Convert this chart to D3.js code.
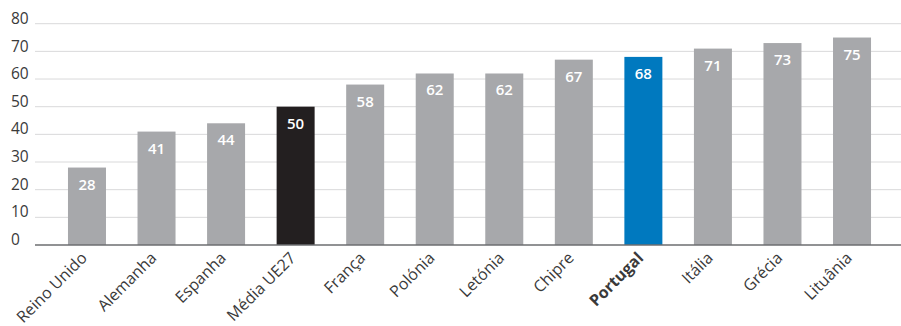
<!DOCTYPE html>
<html>
<head>
<meta charset="utf-8">
<script src="https://cdn.jsdelivr.net/npm/d3@7"></script>
<style>
  html, body { margin: 0; padding: 0; background: #fff; }
  svg { display: block; font-family: "Open Sans", "Noto Sans", sans-serif; }
</style>
</head>
<body>
<svg id="chart" width="901" height="326"></svg>
<script>
// Country scores, ordered from lowest to highest
const countries = ["Reino Unido", "Alemanha", "Espanha", "Média UE27", "França", "Polónia",
                   "Letónia", "Chipre", "Portugal", "Itália", "Grécia", "Lituânia"];
const values = [28, 41, 44, 50, 58, 62, 62, 67, 68, 71, 73, 75];
const yTicks = [0, 10, 20, 30, 40, 50, 60, 70, 80];

const highlightAvg = "Média UE27";
const highlightHome = "Portugal";

const svg = d3.select("#chart");

const x = d3.scaleBand()
  .domain(countries)
  .range([52.2, 886.8])
  .paddingInner(0.4536)
  .paddingOuter(0.2268);

const y = d3.scaleLinear()
  .domain([0, 80])
  .range([245, 23.7]);

// Horizontal gridlines
svg.append("g")
  .selectAll("line")
  .data(yTicks.filter(t => t !== 0))
  .join("line")
  .attr("x1", 35).attr("x2", 901)
  .attr("y1", d => y(d)).attr("y2", d => y(d))
  .attr("stroke", "#d9d9da")
  .attr("stroke-width", 1);

// Y tick labels, left aligned
svg.append("g")
  .selectAll("text")
  .data(yTicks)
  .join("text")
  .attr("x", 11)
  .attr("y", d => y(d) - 4)
  .attr("dominant-baseline", "middle")
  .attr("font-size", 15.5)
  .attr("fill", "#3a3a3a")
  .text(d => d);

function barColor(c) {
  if (c === highlightAvg) return "#231f20";
  if (c === highlightHome) return "#0079bf";
  return "#a7a8ab";
}

// Bars
svg.append("g")
  .selectAll("rect")
  .data(countries)
  .join("rect")
  .attr("x", d => x(d))
  .attr("width", x.bandwidth())
  .attr("y", (d, i) => y(values[i]))
  .attr("height", (d, i) => y(0) - y(values[i]))
  .attr("fill", barColor);

// Value labels inside the bars
svg.append("g")
  .selectAll("text")
  .data(countries)
  .join("text")
  .attr("x", d => x(d) + x.bandwidth() / 2)
  .attr("y", (d, i) => y(values[i]) + 22)
  .attr("text-anchor", "middle")
  .attr("font-size", 15)
  .attr("font-weight", 600)
  .attr("fill", "#ffffff")
  .text((d, i) => values[i]);

// Baseline
svg.append("line")
  .attr("x1", 35).attr("x2", 901)
  .attr("y1", y(0)).attr("y2", y(0))
  .attr("stroke", "#6d6e71")
  .attr("stroke-width", 1.3);

// Category labels, rotated
svg.append("g")
  .selectAll("text")
  .data(countries)
  .join("text")
  .attr("transform", d => `translate(${x(d) + x.bandwidth() / 2 + 1},${259}) rotate(-45)`)
  .attr("text-anchor", "end")
  .attr("font-size", 16)
  .attr("font-weight", d => d === highlightHome ? 700 : 400)
  .attr("fill", "#3a3a3a")
  .text(d => d);
</script>
</body>
</html>
